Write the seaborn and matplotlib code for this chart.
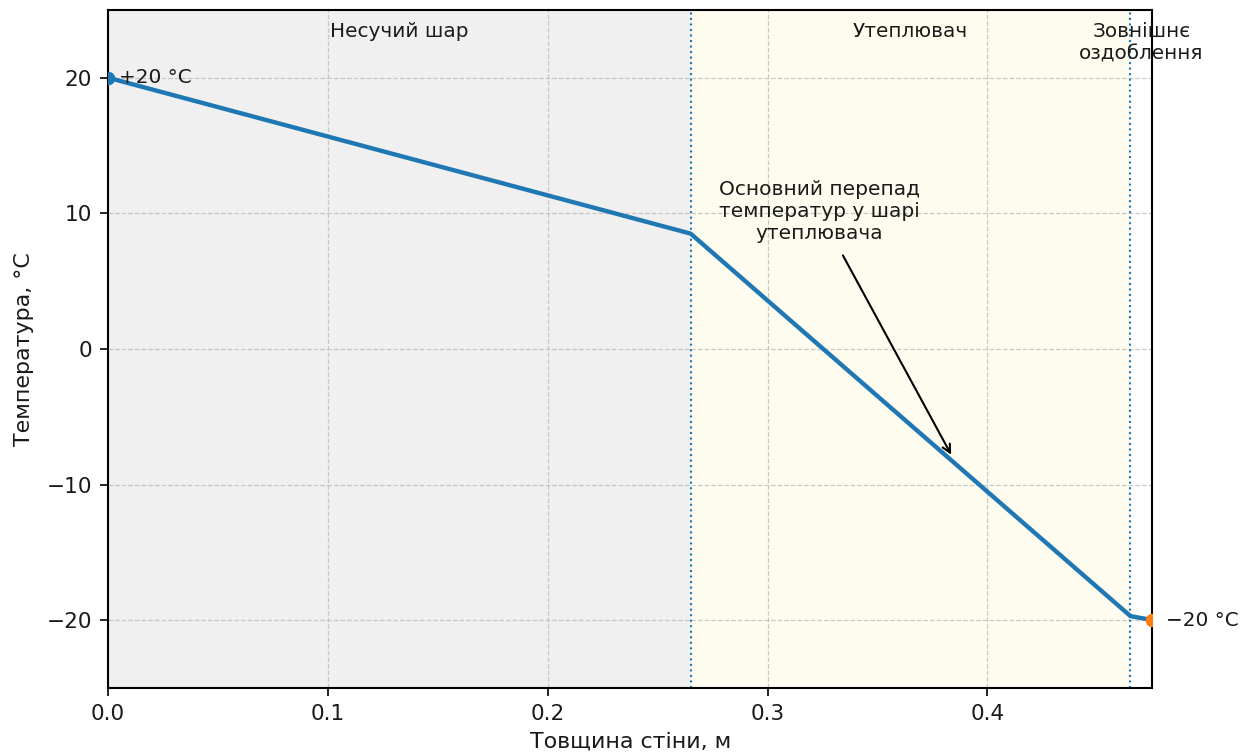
import numpy as np
import pandas as pd
import matplotlib
matplotlib.use("Agg")
import matplotlib.pyplot as plt
import seaborn as sns

# Wall layers and their thickness, m
layer_names = ["Несучий шар", "Утеплювач", "Зовнішнє\nоздоблення"]
layer_thickness = [0.265, 0.200, 0.010]
layer_colors = ["#f0f0f0", "#fdfcef", "#ffffff"]

# Temperature at layer boundaries, °C
boundary_x = [0.0, 0.265, 0.465, 0.475]
boundary_t = [20.0, 8.5, -19.7, -20.0]

t_inside = 20
t_outside = -20

sns.set_style("ticks")
plt.rcParams["font.family"] = ["DejaVu Sans"]

fig, ax = plt.subplots(figsize=(8.36, 5.04), dpi=150)
fig.subplots_adjust(left=0.086, right=0.919, top=0.987, bottom=0.09)

edges = np.concatenate([[0.0], np.cumsum(layer_thickness)])
for i, (name, color) in enumerate(zip(layer_names, layer_colors)):
    ax.axvspan(edges[i], edges[i + 1], color=color, zorder=0, lw=0)
    ax.text((edges[i] + edges[i + 1]) / 2, 24.1, name, ha="center", va="top",
            fontsize=9.6, color="#1a1a1a")
for e in edges[1:-1]:
    ax.axvline(e, color="#1f77b4", ls=":", lw=1.0, zorder=1)

profile = pd.DataFrame({"x": boundary_x, "t": boundary_t})
sns.lineplot(data=profile, x="x", y="t", ax=ax, color="#1f77b4", lw=2.1, zorder=3)

ax.scatter([0.0], [t_inside], color="#1f77b4", s=30, zorder=4, clip_on=True)
ax.scatter([edges[-1]], [t_outside], color="#ff7f0e", s=30, zorder=4, clip_on=True)
ax.text(0.005, t_inside, "+20 °C", ha="left", va="center", fontsize=9.6,
        color="#1a1a1a")
ax.text(edges[-1] + 0.006, t_outside, "−20 °C", ha="left", va="center",
        fontsize=9.6, color="#1a1a1a")

ax.annotate("Основний перепад\nтемператур у шарі\nутеплювача",
            xy=(0.3835, -7.8), xytext=(0.3235, 10.1),
            ha="center", va="center", fontsize=9.7, color="#1a1a1a",
            arrowprops=dict(arrowstyle="->", color="black", lw=1.0,
                            shrinkA=4, shrinkB=0))

ax.set_xlim(0, edges[-1])
ax.set_ylim(-25, 25)
ax.set_xticks([0.0, 0.1, 0.2, 0.3, 0.4])
ax.set_yticks([-20, -10, 0, 10, 20])
ax.grid(True, ls="--", lw=0.6, color="#bdbdbd", alpha=0.8)
ax.set_axisbelow(True)
ax.tick_params(labelsize=10.4, length=4, color="black", labelcolor="#1a1a1a")
for sp in ax.spines.values():
    sp.set_color("black")
    sp.set_linewidth(1.0)
ax.set_xlabel("Товщина стіни, м", fontsize=10.6, labelpad=4, color="#1a1a1a")
ax.set_ylabel("Температура, °C", fontsize=10.6, labelpad=6, color="#1a1a1a")

fig.savefig("out.png", dpi=150)
